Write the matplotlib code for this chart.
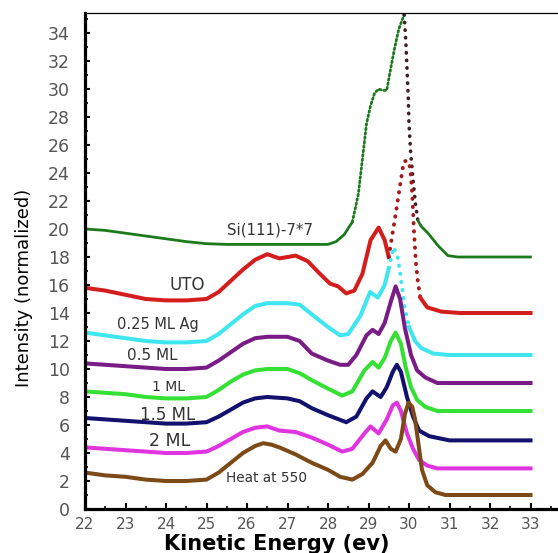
import matplotlib
matplotlib.use("Agg")
import matplotlib.pyplot as plt
from matplotlib.ticker import MultipleLocator

# --- data (kinetic energy in eV, normalized intensity) ---
si_x = [22, 22.5, 23, 23.5, 24, 24.5, 25, 25.5, 26, 27, 28, 28.2, 28.4, 28.6]
si_y = [20.0, 19.9, 19.7, 19.5, 19.3, 19.1, 18.95, 18.9, 18.9, 18.9, 18.9, 19.1, 19.6, 20.5]
si_rise_x = [28.6, 28.75, 28.85, 28.95, 29.05, 29.15, 29.25, 29.35, 29.45, 29.55, 29.65, 29.75, 29.88]
si_rise_y = [20.5, 22.5, 25.0, 27.5, 28.8, 29.7, 30.0, 29.9, 29.9, 31.5, 33.0, 34.3, 35.3]
si_fall_x = [29.88, 29.92, 29.95, 29.98, 30.0, 30.04, 30.1, 30.16, 30.22]
si_fall_y = [35.3, 33.5, 31.5, 29.5, 27.5, 25.5, 23.5, 21.8, 20.6]
si_tail_x = [30.22, 30.3, 30.47, 30.72, 30.96, 31.2, 33.0]
si_tail_y = [20.6, 20.2, 19.7, 18.8, 18.1, 18.0, 18.0]

uto_x = [22, 22.5, 23, 23.5, 24, 24.5, 25, 25.3, 25.6, 25.9, 26.2, 26.5, 26.8, 27.0, 27.2,
         27.5, 27.8, 28.05, 28.25, 28.45, 28.65, 28.85, 29.05, 29.25, 29.4, 29.5]
uto_y = [15.8, 15.6, 15.3, 15.0, 14.9, 14.9, 15.0, 15.5, 16.3, 17.1, 17.8, 18.2, 17.9, 18.0, 18.1,
         17.7, 16.8, 16.1, 15.9, 15.4, 15.6, 16.8, 19.2, 20.1, 19.2, 18.0]
uto_peak_x = [29.5, 29.6, 29.7, 29.8, 29.87, 29.95, 30.03, 30.08, 30.12, 30.17, 30.22, 30.28]
uto_peak_y = [18.0, 19.8, 21.6, 23.5, 24.8, 24.9, 24.4, 22.5, 20.0, 17.6, 16.2, 15.1]
uto_tail_x = [30.28, 30.45, 30.8, 31.25, 33.0]
uto_tail_y = [15.1, 14.4, 14.1, 14.0, 14.0]

ag025_x = [22, 22.5, 23, 23.5, 24, 24.5, 25, 25.3, 25.6, 25.9, 26.2, 26.5, 27, 27.3, 27.6,
           28.0, 28.3, 28.5, 28.8, 29.04, 29.23, 29.4, 29.5]
ag025_y = [12.6, 12.4, 12.2, 12.0, 11.9, 11.9, 12.0, 12.5, 13.2, 13.9, 14.5, 14.7, 14.7, 14.6, 13.9,
           13.0, 12.4, 12.5, 13.8, 15.5, 15.1, 16.0, 17.2]
ag025_peak_x = [29.5, 29.62, 29.72, 29.8, 29.9, 30.0]
ag025_peak_y = [17.2, 18.7, 18.0, 16.5, 14.3, 13.0]
ag025_tail_x = [30.0, 30.15, 30.3, 30.6, 31.0, 33.0]
ag025_tail_y = [13.0, 12.0, 11.5, 11.1, 11.0, 11.0]

ml05_x = [22, 22.5, 23, 23.5, 24, 24.5, 25, 25.3, 25.6, 25.9, 26.2, 26.5, 27.0, 27.3, 27.6,
          28.0, 28.3, 28.5, 28.7, 28.95, 29.1, 29.25, 29.4, 29.55, 29.67, 29.78, 29.9, 30.05,
          30.2, 30.4, 30.7, 33.0]
ml05_y = [10.4, 10.3, 10.2, 10.1, 10.0, 10.0, 10.1, 10.6, 11.2, 11.8, 12.2, 12.3, 12.3, 12.0, 11.1,
          10.6, 10.3, 10.3, 11.0, 12.4, 12.8, 12.5, 13.3, 14.8, 15.9, 15.0, 12.9, 11.0,
          9.9, 9.4, 9.0, 9.0]

ml1_x = [22, 22.5, 23, 23.5, 24, 24.5, 25, 25.3, 25.6, 25.9, 26.2, 26.5, 27.0, 27.3, 27.6,
         28.0, 28.35, 28.6, 28.9, 29.1, 29.25, 29.4, 29.55, 29.67, 29.8, 29.92, 30.05,
         30.2, 30.4, 30.7, 33.0]
ml1_y = [8.4, 8.3, 8.2, 8.0, 7.9, 7.9, 8.0, 8.5, 9.1, 9.6, 9.9, 10.0, 10.0, 9.7, 9.2,
         8.6, 8.1, 8.4, 9.9, 10.5, 10.1, 10.8, 12.0, 12.6, 11.8, 10.1, 8.7,
         7.8, 7.3, 7.0, 7.0]

ml15_x = [22, 22.5, 23, 23.5, 24, 24.5, 25, 25.3, 25.6, 25.9, 26.2, 26.5, 27.0, 27.3, 27.6,
          28.0, 28.45, 28.7, 28.95, 29.1, 29.3, 29.45, 29.6, 29.7, 29.8, 29.95, 30.1,
          30.25, 30.5, 31.0, 33.0]
ml15_y = [6.5, 6.4, 6.3, 6.2, 6.1, 6.1, 6.2, 6.6, 7.1, 7.6, 7.9, 8.0, 7.9, 7.7, 7.2,
          6.7, 6.2, 6.6, 7.9, 8.4, 8.0, 8.7, 9.8, 10.3, 9.8, 8.0, 6.6,
          5.6, 5.2, 4.9, 4.9]

ml2_x = [22, 22.5, 23, 23.5, 24, 24.5, 25, 25.3, 25.6, 25.9, 26.2, 26.5, 26.8, 27.2, 27.6,
         28.0, 28.35, 28.6, 28.9, 29.05, 29.25, 29.45, 29.6, 29.7, 29.8, 29.95, 30.1,
         30.25, 30.45, 30.7, 33.0]
ml2_y = [4.4, 4.3, 4.2, 4.1, 4.0, 4.0, 4.1, 4.5, 5.0, 5.5, 5.8, 5.9, 5.6, 5.5, 5.1,
         4.6, 4.1, 4.3, 5.4, 5.9, 5.4, 6.4, 7.4, 7.6, 7.0, 5.4, 4.3,
         3.5, 3.1, 2.9, 2.9]

heat_x = [22, 22.5, 23, 23.5, 24, 24.5, 25, 25.3, 25.6, 25.9, 26.2, 26.4, 26.6, 26.8, 27.2,
          27.6, 28.0, 28.3, 28.6, 28.85, 29.1, 29.3, 29.42, 29.55, 29.67, 29.8, 29.9, 29.99,
          30.08, 30.15, 30.25, 30.32, 30.45, 30.65, 30.9, 33.0]
heat_y = [2.6, 2.4, 2.3, 2.1, 2.0, 2.0, 2.1, 2.6, 3.3, 4.0, 4.5, 4.7, 4.6, 4.4, 3.9,
          3.3, 2.8, 2.3, 2.1, 2.5, 3.3, 4.5, 4.9, 4.3, 4.1, 5.0, 6.8, 7.6,
          7.3, 6.4, 4.3, 2.8, 1.7, 1.2, 1.0, 1.0]

labels = ["Si(111)-7*7", "UTO", "0.25 ML Ag", "0.5 ML", "1 ML", "1.5 ML", "2 ML", "Heat at 550"]
label_x = [26.57, 24.52, 23.8, 23.65, 24.07, 24.04, 24.1, 26.47]
label_y = [19.9, 16.0, 13.2, 11.0, 8.7, 6.7, 4.85, 2.2]
label_size = [10.8, 12, 10.5, 11, 10, 12, 12.5, 9.8]

c_si = '#1c7a1c'
c_uto = '#d41e1e'
c_ag = '#3fe6f0'
c_05 = '#7a1c86'
c_1 = '#35e035'
c_15 = '#12126e'
c_2 = '#e034e0'
c_heat = '#7c4a16'

fig = plt.figure(figsize=(5.58, 5.53), dpi=100)
ax = fig.add_axes([85 / 558, 1 - 509 / 553, 473 / 558, 496.3 / 553])

lw = 2.9
dots = dict(linestyle=(0, (0.1, 2.0)), dash_capstyle='round')

# Si(111)-7*7
ax.plot(si_x, si_y, color=c_si, lw=2.0)
ax.plot(si_rise_x, si_rise_y, color=c_si, lw=2.0, linestyle=(0, (0.6, 1.0)), dash_capstyle='round')
ax.plot(si_fall_x, si_fall_y, color='#3a2222', lw=2.6, **dots)
ax.plot(si_tail_x, si_tail_y, color=c_si, lw=2.0)

# UTO
ax.plot(uto_x, uto_y, color=c_uto, lw=lw)
ax.plot(uto_peak_x, uto_peak_y, color='#a81818', lw=2.8, **dots)
ax.plot(uto_tail_x, uto_tail_y, color=c_uto, lw=lw)

# 0.25 ML Ag
ax.plot(ag025_x, ag025_y, color=c_ag, lw=lw)
ax.plot(ag025_peak_x, ag025_peak_y, color=c_ag, lw=2.8, **dots)
ax.plot(ag025_tail_x, ag025_tail_y, color=c_ag, lw=lw)

ax.plot(ml05_x, ml05_y, color=c_05, lw=lw)
ax.plot(ml1_x, ml1_y, color=c_1, lw=lw)
ax.plot(ml15_x, ml15_y, color=c_15, lw=lw)
ax.plot(ml2_x, ml2_y, color=c_2, lw=lw)
ax.plot(heat_x, heat_y, color=c_heat, lw=lw)

for txt, tx, ty, fs in zip(labels, label_x, label_y, label_size):
    ax.text(tx, ty, txt, fontsize=fs, color='#333333', ha='center', va='center')

ax.set_xlim(22, 22 + 473 / 40.5)
ax.set_ylim(0, 35.45)

ax.xaxis.set_major_locator(MultipleLocator(1))
ax.xaxis.set_minor_locator(MultipleLocator(0.5))
ax.yaxis.set_major_locator(MultipleLocator(2))
ax.yaxis.set_minor_locator(MultipleLocator(1))

ax.tick_params(axis='x', which='major', direction='in', length=4, width=1.5,
               labelsize=11, labelcolor='#555555', pad=6)
ax.tick_params(axis='x', which='minor', direction='in', length=2.5, width=1.2)
ax.tick_params(axis='y', which='major', direction='in', length=3.5, width=1.5,
               labelsize=12.5, labelcolor='#555555', pad=11)
ax.tick_params(axis='y', which='minor', direction='in', length=2, width=1.2)

ax.spines['left'].set_linewidth(2.3)
ax.spines['bottom'].set_linewidth(2.3)
ax.spines['top'].set_linewidth(0.9)
ax.spines['right'].set_visible(False)

ax.set_ylabel('Intensity (normalized)', fontsize=13)
ax.yaxis.set_label_coords(-0.11, 0.446)
ax.set_xlabel('Kinetic Energy (ev)', fontsize=15, fontweight='bold')
ax.xaxis.set_label_coords(0.406, -0.05)
ax.xaxis.label.set_va('top')

fig.savefig('out.png', dpi=100)
